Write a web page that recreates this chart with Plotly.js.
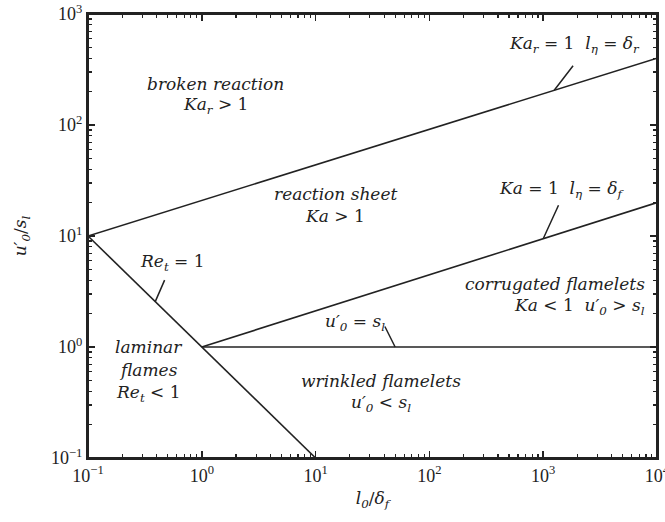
<!DOCTYPE html>
<html>
<head>
<meta charset="utf-8">
<script src="https://cdn.plot.ly/plotly-3.0.1.min.js"></script>
<style>
  html, body { margin: 0; padding: 0; background: #fff; overflow: hidden; }
  #chart { width: 665px; height: 522px; }
</style>
</head>
<body>
<div id="chart"></div>
<script>
// Regime boundaries of the turbulent premixed combustion diagram (log-log)
const reT_x = [0.1, 10];      // Re_t = 1
const reT_y = [10, 0.1];
const kaR_x = [0.1, 10000];   // Ka_r = 1
const kaR_y = [10, 400];
const ka_x = [1, 10000];      // Ka = 1
const ka_y = [1, 20];
const uEq_x = [1, 10000];     // u'_0 = s_l
const uEq_y = [1, 1];

// Where each boundary carries its label leader
const leaderX = { kaR: 1250, ka: 1000, reT: 0.39, uEq: 50 };

const xTickVals = [0.1, 1, 10, 100, 1000, 10000];
const xTickText = ['10<sup>−1</sup>', '10<sup>0</sup>', '10<sup>1</sup>', '10<sup>2</sup>', '10<sup>3</sup>', '10<sup>4</sup>'];
const yTickVals = [0.1, 1, 10, 100, 1000];
const yTickText = ['10<sup>−1</sup>', '10<sup>0</sup>', '10<sup>1</sup>', '10<sup>2</sup>', '10<sup>3</sup>'];

const ink = '#222';
const serif = 'Liberation Serif, serif';
const labelFont = 'DejaVu Serif, serif';

// log-log interpolation along a straight boundary segment
function onLine(xs, ys, x) {
  const lx0 = Math.log10(xs[0]), lx1 = Math.log10(xs[1]);
  const ly0 = Math.log10(ys[0]), ly1 = Math.log10(ys[1]);
  const t = (Math.log10(x) - lx0) / (lx1 - lx0);
  return ly0 + t * (ly1 - ly0);
}

function minorVals(lo, hi) {
  const v = [];
  for (let e = lo; e < hi; e++) for (let d = 2; d <= 9; d++) v.push(d * Math.pow(10, e));
  return v;
}

const lineStyle = { color: ink, width: 1.6 };
const traces = [
  { x: reT_x, y: reT_y, mode: 'lines', line: lineStyle, hoverinfo: 'skip' },
  { x: kaR_x, y: kaR_y, mode: 'lines', line: lineStyle, hoverinfo: 'skip' },
  { x: ka_x, y: ka_y, mode: 'lines', line: lineStyle, hoverinfo: 'skip' },
  // drawn on the twin (top/right) axes, which share the same ranges
  { x: uEq_x, y: uEq_y, mode: 'lines', line: lineStyle, hoverinfo: 'skip', xaxis: 'x2', yaxis: 'y2' }
];

function leader(xs, ys, x, ax, ay) {
  return {
    xref: 'x', yref: 'y', x: Math.log10(x), y: onLine(xs, ys, x),
    text: '', showarrow: true, arrowhead: 0, arrowwidth: 1.5, arrowcolor: ink,
    ax: ax, ay: ay, standoff: 0, startstandoff: 0
  };
}

function label(px, py, text, align) {
  return {
    xref: 'paper', yref: 'paper',
    x: (px - 88) / 569, y: (458 - py) / 444,
    xanchor: align || 'center', yanchor: 'middle',
    text: text, showarrow: false, align: align || 'center',
    font: { family: labelFont, size: 17, color: ink }
  };
}

const it = s => '<i>' + s + '</i>';

const annotations = [
  leader(kaR_x, kaR_y, leaderX.kaR, 20, -26),
  leader(ka_x, ka_y, leaderX.ka, 16, -35),
  leader(reT_x, reT_y, leaderX.reT, 10, -23),
  leader(uEq_x, uEq_y, leaderX.uEq, -11, -22),

  label(215, 84, it('broken reaction')),
  label(215, 105, it('Ka<sub>r</sub>') + ' > 1'),
  label(335, 194, it('reaction sheet')),
  label(335, 216, it('Ka') + ' > 1'),
  label(647, 284, it('corrugated flamelets'), 'right'),
  label(647, 306, it('Ka') + ' < 1  ' + it('u′<sub>0</sub>') + ' > ' + it('s<sub>l</sub>'), 'right'),
  label(381, 381, it('wrinkled flamelets')),
  label(381, 403, it('u′<sub>0</sub>') + ' < ' + it('s<sub>l</sub>')),
  label(148, 347, it('laminar')),
  label(148, 370, it('flames')),
  label(148, 393, it('Re<sub>t</sub>') + ' < 1'),
  label(355, 322, it('u′<sub>0</sub>') + ' = ' + it('s<sub>l</sub>')),
  label(172, 262, it('Re<sub>t</sub>') + ' = 1'),
  label(574, 45, it('Ka<sub>r</sub>') + ' = 1  ' + it('l<sub>η</sub>') + ' = ' + it('δ<sub>r</sub>')),
  label(561, 190, it('Ka') + ' = 1  ' + it('l<sub>η</sub>') + ' = ' + it('δ<sub>f</sub>'))
];

const axisCommon = {
  type: 'log', showgrid: false, zeroline: false,
  showline: true, linecolor: ink, linewidth: 2,
  ticks: 'inside', ticklen: 7, tickwidth: 1.5, tickcolor: ink,
  tickmode: 'array', ticklabeloverflow: 'allow',
  tickfont: { family: serif, size: 18, color: ink }
};
const minorX = { ticks: 'inside', ticklen: 4, tickwidth: 1.2, tickcolor: ink, tickmode: 'array', tickvals: minorVals(-1, 4) };
const minorY = { ticks: 'inside', ticklen: 4, tickwidth: 1.2, tickcolor: ink, tickmode: 'array', tickvals: minorVals(-1, 3) };

const layout = {
  width: 665, height: 522,
  margin: { l: 88, r: 8, t: 14, b: 64 },
  paper_bgcolor: '#fff', plot_bgcolor: '#fff',
  showlegend: false,
  xaxis: Object.assign({}, axisCommon, {
    range: [-1, 4], tickvals: xTickVals, ticktext: xTickText, minor: minorX,
    title: { text: it('l<sub>0</sub>') + '/' + it('δ<sub>f</sub>'), font: { family: labelFont, size: 17, color: ink }, standoff: 8 }
  }),
  yaxis: Object.assign({}, axisCommon, {
    range: [-1, 3], tickvals: yTickVals, ticktext: yTickText, minor: minorY,
    title: { text: it('u′<sub>0</sub>') + '/' + it('s<sub>l</sub>'), font: { family: labelFont, size: 17, color: ink }, standoff: 20 }
  }),
  xaxis2: Object.assign({}, axisCommon, {
    overlaying: 'x', side: 'top', anchor: 'y2',
    range: [-1, 4], tickvals: xTickVals, showticklabels: false, minor: minorX
  }),
  yaxis2: Object.assign({}, axisCommon, {
    overlaying: 'y', side: 'right', anchor: 'x2',
    range: [-1, 3], tickvals: yTickVals, showticklabels: false, minor: minorY
  }),
  // plot frame
  shapes: [{ type: 'rect', xref: 'paper', yref: 'paper', x0: 0, x1: 1, y0: 0, y1: 1, line: { color: ink, width: 2 }, layer: 'above' }],
  annotations: annotations
};

Plotly.newPlot('chart', traces, layout, { staticPlot: true, displayModeBar: false });
</script>
</body>
</html>
